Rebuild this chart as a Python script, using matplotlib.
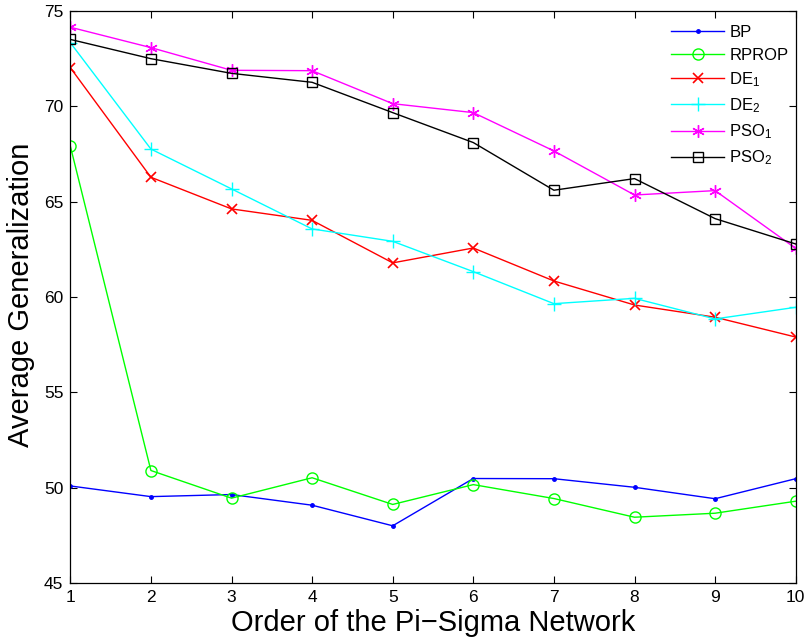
import matplotlib
matplotlib.use("Agg")
import matplotlib.pyplot as plt

plt.rcParams['font.family'] = ['Liberation Sans', 'DejaVu Sans']
plt.rcParams['mathtext.default'] = 'regular'

orders = [1, 2, 3, 4, 5, 6, 7, 8, 9, 10]
bp = [50.09, 49.53, 49.64, 49.08, 48.00, 50.48, 50.47, 50.02, 49.42, 50.47]
rprop = [67.92, 50.90, 49.45, 50.52, 49.12, 50.16, 49.43, 48.45, 48.66, 49.29]
de1 = [72.03, 66.28, 64.62, 64.02, 61.79, 62.57, 60.84, 59.58, 58.94, 57.90]
de2 = [73.34, 67.76, 65.67, 63.57, 62.92, 61.33, 59.65, 59.93, 58.85, 59.46]
pso1 = [74.15, 73.08, 71.89, 71.87, 70.14, 69.67, 67.66, 65.35, 65.58, 62.55]
pso2 = [73.51, 72.50, 71.73, 71.26, 69.67, 68.10, 65.60, 66.21, 64.11, 62.78]
labels = ['BP', 'RPROP', 'DE$_1$', 'DE$_2$', 'PSO$_1$', 'PSO$_2$']
yticks = [45, 50, 55, 60, 65, 70, 75]

fig = plt.figure(figsize=(8.06, 6.4), dpi=100)
ax = fig.add_axes([70.3/806, 57/640, (795.7-70.3)/806, (583-11)/640])

lw = 1.0
ax.plot(orders, bp, color=(0, 0, 1), marker='.', markersize=5, lw=lw, label=labels[0])
ax.plot(orders, rprop, color=(0, 1, 0), marker='o', markersize=8, mfc='none', mew=1.0, lw=lw, label=labels[1])
ax.plot(orders, de1, color=(1, 0, 0), marker='x', markersize=7, mew=1.2, lw=lw, label=labels[2])
ax.plot(orders, de2, color=(0, 1, 1), marker='+', markersize=10, mew=1.0, lw=lw, label=labels[3])
ax.plot(orders, pso1, color=(1, 0, 1), marker=(6, 2, 0), markersize=9, mew=1.0, lw=lw, label=labels[4])
ax.plot(orders, pso2, color='k', marker='s', markersize=7, mfc='none', mew=1.0, lw=lw, label=labels[5])

ax.set_xlim(1, 10)
ax.set_ylim(45, 75)
ax.set_xticks(orders)
ax.set_yticks(yticks)
ax.tick_params(direction='in', top=True, right=True, length=5, width=0.8, labelsize=12.5, pad=5)
for s in ax.spines.values():
    s.set_linewidth(0.9)

ax.set_xlabel('Order of the Pi\u2212Sigma Network', fontsize=21, labelpad=3)
ax.set_ylabel('Average Generalization', fontsize=21,
              family=['Liberation Sans Narrow', 'DejaVu Sans Condensed', 'Liberation Sans'])
ax.yaxis.set_label_coords(-(70.3 - 35) / (795.7 - 70.3), 0.503)

leg = ax.legend(loc='upper left', bbox_to_anchor=(671/806, 1 - 25/640), bbox_transform=fig.transFigure,
                frameon=False, fontsize=12, handlelength=3.2, handletextpad=0.3,
                borderpad=0, borderaxespad=0, labelspacing=0.45)

fig.savefig('out.png', dpi=100)
